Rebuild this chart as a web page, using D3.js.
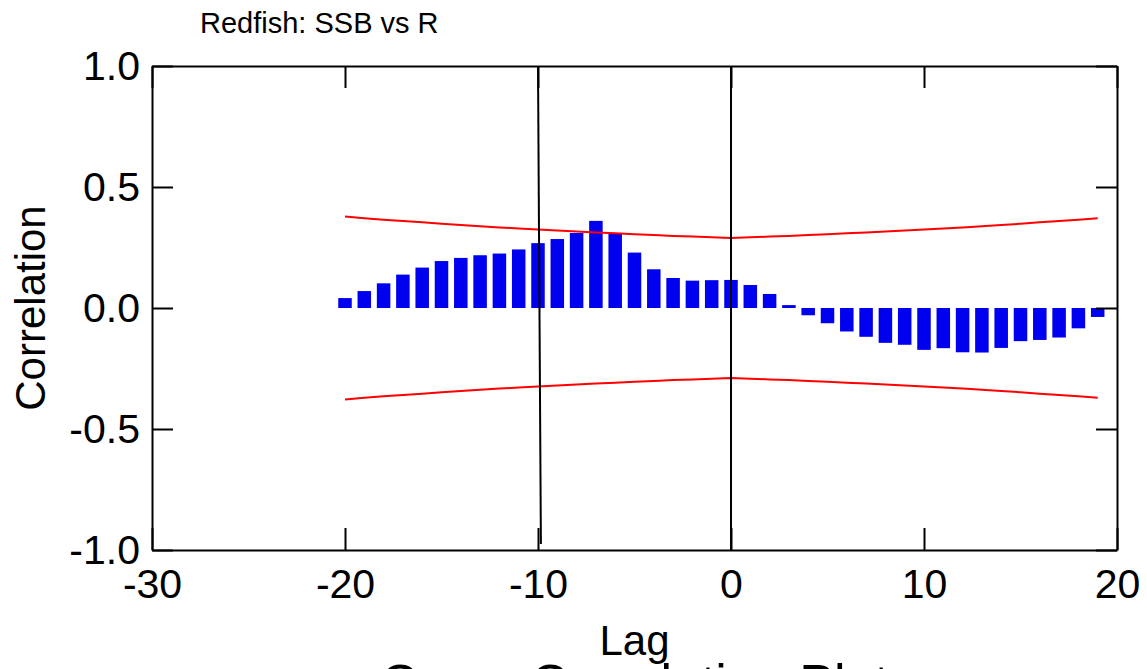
<!DOCTYPE html>
<html>
<head>
<meta charset="utf-8">
<script src="https://cdn.jsdelivr.net/npm/d3@7/dist/d3.min.js"></script>
<style>
  html, body { margin: 0; padding: 0; background: #fff; }
  svg { display: block; font-family: "Liberation Sans", Arial, sans-serif; }
</style>
</head>
<body>
<svg id="chart" width="1147" height="669"></svg>
<script>
// ---- data ----
const lags = [-20,-19,-18,-17,-16,-15,-14,-13,-12,-11,-10,-9,-8,-7,-6,-5,-4,-3,-2,-1,
              0,1,2,3,4,5,6,7,8,9,10,11,12,13,14,15,16,17,18,19];
const correlation = [0.041,0.070,0.102,0.138,0.167,0.194,0.207,0.218,0.225,0.242,
                     0.268,0.285,0.310,0.360,0.310,0.229,0.160,0.124,0.113,0.115,
                     0.116,0.095,0.058,0.012,-0.030,-0.063,-0.097,-0.119,-0.144,-0.152,
                     -0.173,-0.166,-0.183,-0.184,-0.165,-0.137,-0.132,-0.122,-0.084,-0.037];
const upperBand = [0.378,0.371,0.365,0.359,0.354,0.348,0.343,0.338,0.333,0.329,
                   0.324,0.320,0.316,0.312,0.309,0.305,0.302,0.298,0.295,0.292,
                   0.289,0.292,0.295,0.298,0.302,0.305,0.309,0.312,0.316,0.320,
                   0.324,0.329,0.333,0.338,0.343,0.348,0.354,0.359,0.365,0.371];
const lowerBand = upperBand.map(v => -v);
const refLineA = [[-10, 1.0], [-9.85, -0.975]];
const refLineB = [[0, 1.0], [0, -1.0]];
const xTicks = [-30, -20, -10, 0, 10, 20];
const yTicks = [-1.0, -0.5, 0.0, 0.5, 1.0];
const titleText = "Redfish: SSB vs R";
const xLabel = "Lag";
const yLabel = "Correlation";
const bottomTitle = "Cross Correlation Plot";

// ---- layout ----
const svg = d3.select("#chart");
const L = 152, R = 1117, T = 66, B = 550;
const x = d3.scaleLinear().domain([-30, 20]).range([L, R]);
const y = d3.scaleLinear().domain([-1, 1]).range([B, T]);
const barHalf = 0.35;

// bars
svg.append("g").selectAll("rect")
  .data(lags.map((l, i) => ({ lag: l, v: correlation[i] })))
  .join("rect")
  .attr("x", d => x(d.lag - barHalf))
  .attr("width", d => x(d.lag + barHalf) - x(d.lag - barHalf))
  .attr("y", d => y(Math.max(0, d.v)))
  .attr("height", d => Math.abs(y(d.v) - y(0)))
  .attr("fill", "#0000f0");

// confidence bands
const line = d3.line().x(d => x(d[0])).y(d => y(d[1]));
[upperBand, lowerBand].forEach(band => {
  svg.append("path")
    .datum(lags.map((l, i) => [l, band[i]]))
    .attr("d", line)
    .attr("fill", "none")
    .attr("stroke", "#ff0000")
    .attr("stroke-width", 2);
});

// vertical reference lines
[refLineA, refLineB].forEach(pts => {
  svg.append("path")
    .datum(pts)
    .attr("d", line)
    .attr("fill", "none")
    .attr("stroke", "#000")
    .attr("stroke-width", 2);
});

// axes
function styleAxis(g) {
  g.selectAll(".domain").attr("stroke", "#000").attr("stroke-width", 2);
  g.selectAll(".tick line").attr("stroke", "#000").attr("stroke-width", 2);
  g.selectAll(".tick text").attr("fill", "#000")
    .style("font-family", "'Liberation Sans', Arial, sans-serif");
}
const gx = svg.append("g").attr("transform", `translate(0,${B})`)
  .call(d3.axisBottom(x).tickValues(xTicks).tickFormat(d => String(d))
        .tickSizeInner(-22).tickSizeOuter(0).tickPadding(19));
gx.selectAll(".tick text").style("font-size", "41px");
styleAxis(gx);

const gxt = svg.append("g").attr("transform", `translate(0,${T})`)
  .call(d3.axisTop(x).tickValues(xTicks).tickFormat("")
        .tickSizeInner(-22).tickSizeOuter(0));
styleAxis(gxt);

const gy = svg.append("g").attr("transform", `translate(${L},0)`)
  .call(d3.axisLeft(y).tickValues(yTicks).tickFormat(d => d.toFixed(1))
        .tickSizeInner(-21).tickSizeOuter(0).tickPadding(12));
gy.selectAll(".tick text").style("font-size", "41px");
styleAxis(gy);

const gyr = svg.append("g").attr("transform", `translate(${R},0)`)
  .call(d3.axisRight(y).tickValues(yTicks).tickFormat("")
        .tickSizeInner(-21).tickSizeOuter(0));
styleAxis(gyr);

// texts
svg.append("text").attr("x", 200).attr("y", 33)
  .style("font-size", "29px").text(titleText);

svg.append("text")
  .attr("transform", `translate(45,${(T + B) / 2}) rotate(-90)`)
  .attr("text-anchor", "middle")
  .style("font-size", "42px").text(yLabel);

svg.append("text").attr("x", (L + R) / 2).attr("y", 655)
  .attr("text-anchor", "middle")
  .style("font-size", "42px").text(xLabel);

svg.append("text").attr("x", (L + R) / 2).attr("y", 701)
  .attr("text-anchor", "middle")
  .style("font-size", "52px").text(bottomTitle);
</script>
</body>
</html>
